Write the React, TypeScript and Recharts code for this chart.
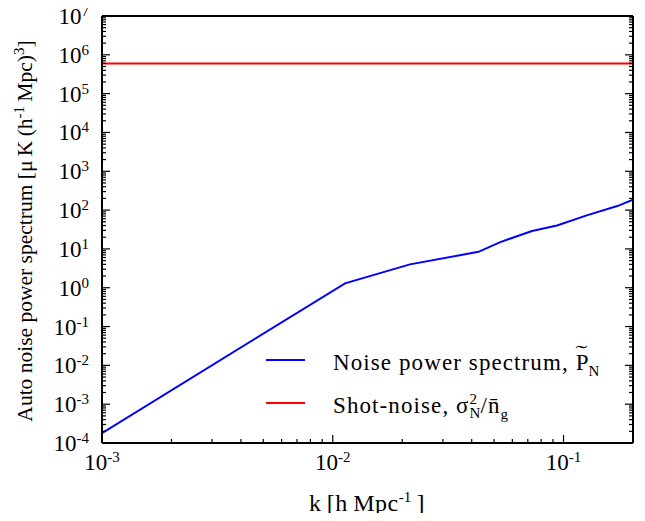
import { Legend, Line, LineChart, XAxis, YAxis } from "recharts";

// wavenumber k [h/Mpc] and the measured noise spectrum
const kValues = [0.001, 0.0113, 0.0216, 0.0428, 0.0532, 0.073, 0.0937, 0.127, 0.171, 0.2];
const noisePower = [1.8e-4, 1.3, 4.0, 8.4, 15, 29, 40, 74, 127, 186];

// flat shot-noise level
const shotNoiseK = [0.001, 0.2];
const shotNoiseLevel = [6e5, 6e5];

const xMajorTicks = [0.001, 0.01, 0.1];
const yMajorExponents = [-4, -3, -2, -1, 0, 1, 2, 3, 4, 5, 6, 7];
const minorMultipliers = [2, 3, 4, 5, 6, 7, 8, 9];

const noiseData = kValues.map((k, i) => ({ k, value: noisePower[i] }));
const shotData = shotNoiseK.map((k, i) => ({ k, value: shotNoiseLevel[i] }));

const xTicks = [
    ...xMajorTicks,
    ...[0.001, 0.01].flatMap((d) => minorMultipliers.map((m) => m * d)),
    0.2,
];
const yTicks = [
    ...yMajorExponents.map((e) => Math.pow(10, e)),
    ...yMajorExponents.slice(0, -1).flatMap((e) => minorMultipliers.map((m) => m * Math.pow(10, e))),
];

const FONT = '"Liberation Serif", "Times New Roman", serif';

const isMajor = (v: number) => Math.abs(Math.log10(v) - Math.round(Math.log10(v))) < 1e-6;

const Pow10 = (props: any) => {
    const { x, y, v, anchor } = props;
    const exp = Math.round(Math.log10(v));
    return (
        <text x={x} y={y} textAnchor={anchor} fontFamily={FONT} fontSize={23} fill="#000">
            10
            <tspan dy={-8} fontSize={15}>
                {exp}
            </tspan>
        </text>
    );
};

const YTick = (props: any) => {
    const { x, y, payload, side } = props;
    const major = isMajor(payload.value);
    const len = major ? 8 : 4;
    const dir = side === "left" ? 1 : -1;
    return (
        <g>
            <line x1={x} x2={x + dir * len} y1={y} y2={y} stroke="#000" strokeWidth={1.2} />
            {major && side === "left" && <Pow10 x={x - 13} y={y + 8} v={payload.value} anchor="end" />}
        </g>
    );
};

const XTick = (props: any) => {
    const { x, y, payload, side } = props;
    const major = isMajor(payload.value);
    const len = major ? 8 : 4;
    const dir = side === "bottom" ? -1 : 1;
    return (
        <g>
            <line x1={x} x2={x} y1={y} y2={y + dir * len} stroke="#000" strokeWidth={1.2} />
            {major && side === "bottom" && <Pow10 x={x} y={y + 27} v={payload.value} anchor="middle" />}
        </g>
    );
};

const small = { fontSize: 15, lineHeight: 0, letterSpacing: 0 };

const legendLabel = (name: string) => {
    if (name === "noise") {
        return (
            <span>
                Noise power spectrum,{" "}
                <span style={{ position: "relative", display: "inline-block", letterSpacing: 0 }}>
                    P
                    <span
                        style={{
                            position: "absolute",
                            left: -2,
                            right: 0,
                            top: -8,
                            textAlign: "center",
                            fontSize: 22,
                            lineHeight: "22px",
                            transform: "scaleX(1.6)",
                        }}
                    >
                        ˜
                    </span>
                </span>
                <sub style={small}>N</sub>
            </span>
        );
    }
    return (
        <span>
            Shot-noise, σ<sup style={small}>2</sup>
            <sub style={{ ...small, marginLeft: -7.5 }}>N</sub>/n&#772;
            <sub style={small}>g</sub>
        </span>
    );
};

const frame = { stroke: "#000", strokeWidth: 2 };

export default function App() {
    return (
        <div style={{ position: "relative", margin: -8, width: 645, height: 521, fontFamily: FONT }}>
            <LineChart
                width={645}
                height={521}
                margin={{ top: 15, right: 11, bottom: 77, left: 101 }}
            >
                <XAxis
                    dataKey="k"
                    type="number"
                    scale="log"
                    domain={[0.001, 0.2]}
                    allowDataOverflow
                    ticks={xTicks}
                    interval={0}
                    height={1}
                    tickSize={0}
                    tickMargin={0}
                    tickLine={false}
                    axisLine={frame}
                    tick={<XTick side="bottom" />}
                />
                <XAxis
                    xAxisId="top"
                    orientation="top"
                    type="number"
                    scale="log"
                    domain={[0.001, 0.2]}
                    allowDataOverflow
                    ticks={xTicks}
                    interval={0}
                    height={1}
                    tickSize={0}
                    tickMargin={0}
                    tickLine={false}
                    axisLine={frame}
                    tick={<XTick side="top" />}
                />
                <YAxis
                    type="number"
                    scale="log"
                    domain={[1e-4, 1e7]}
                    allowDataOverflow
                    ticks={yTicks}
                    interval={0}
                    width={1}
                    tickSize={0}
                    tickMargin={0}
                    tickLine={false}
                    axisLine={frame}
                    tick={<YTick side="left" />}
                />
                <YAxis
                    yAxisId="right"
                    orientation="right"
                    type="number"
                    scale="log"
                    domain={[1e-4, 1e7]}
                    allowDataOverflow
                    ticks={yTicks}
                    interval={0}
                    width={1}
                    tickSize={0}
                    tickMargin={0}
                    tickLine={false}
                    axisLine={frame}
                    tick={<YTick side="right" />}
                />
                <Line
                    data={noiseData}
                    dataKey="value"
                    name="noise"
                    stroke="#0000ff"
                    strokeWidth={2}
                    dot={false}
                    isAnimationActive={false}
                />
                <Line
                    data={shotData}
                    dataKey="value"
                    name="shot"
                    stroke="#ff0000"
                    strokeWidth={2}
                    dot={false}
                    isAnimationActive={false}
                />
                <Legend
                    layout="vertical"
                    align="center"
                    verticalAlign="middle"
                    wrapperStyle={{ left: 266, top: 341, width: 375, height: 90 }}
                    content={(e) => (
                        <div style={{ fontFamily: FONT, fontSize: 23, letterSpacing: 1.1, color: "#000" }}>
                            {e.payload &&
                                e.payload.map((item, idx) => (
                                    <div
                                        key={`item-${idx}`}
                                        style={{ display: "flex", alignItems: "center", height: 43 }}
                                    >
                                        <div
                                            style={{
                                                width: 39,
                                                height: 2,
                                                background: item.color,
                                                marginRight: 28,
                                                marginTop: -6,
                                            }}
                                        />
                                        {legendLabel(String(item.value))}
                                    </div>
                                ))}
                        </div>
                    )}
                />
            </LineChart>
            <div
                style={{
                    position: "absolute",
                    left: 367,
                    top: 489,
                    transform: "translateX(-50%)",
                    fontSize: 24,
                    whiteSpace: "nowrap",
                    lineHeight: "28px",
                    letterSpacing: 0.5,
                }}
            >
                k{"\u2009"}[h{"\u2009"}Mpc<sup style={small}>-1</sup>{"\u2009"}]
            </div>
            <div
                style={{
                    position: "absolute",
                    left: 25,
                    top: 231,
                    transform: "translate(-50%, -50%) rotate(-90deg)",
                    fontSize: 21.5,
                    whiteSpace: "nowrap",
                    lineHeight: "26px",
                }}
            >
                Auto noise power spectrum [μ{"\u2009"}K{"\u2009"}(h<sup style={small}>-1</sup>
                {"\u2009"}Mpc)
                <sup style={small}>3</sup>]
            </div>
        </div>
    );
}
